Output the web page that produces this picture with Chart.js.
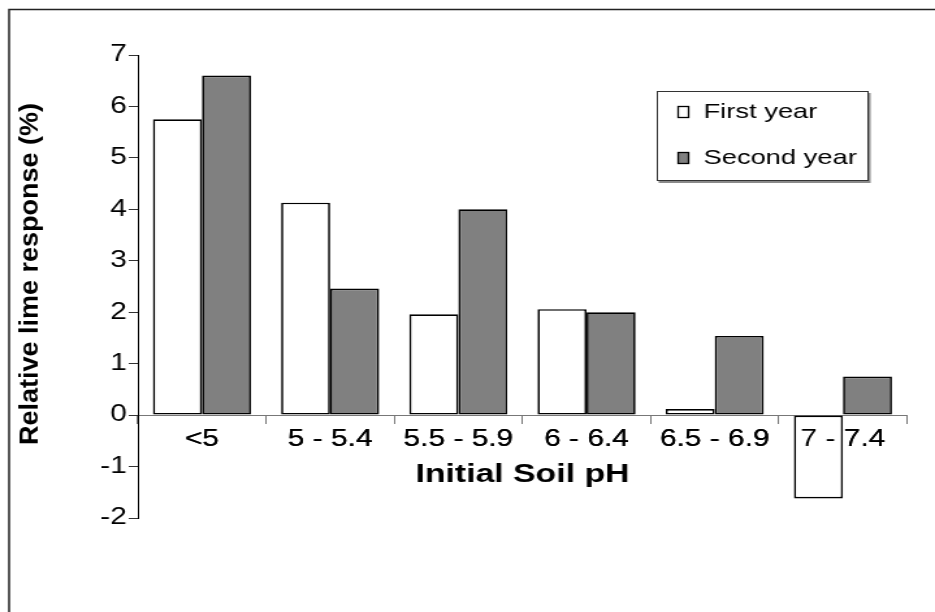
<!DOCTYPE html>
<html>
<head>
<meta charset="utf-8">
<script src="https://cdn.jsdelivr.net/npm/chart.js@4/dist/chart.umd.min.js"></script>
<style>
  html, body { margin: 0; padding: 0; background: #fff; overflow: hidden; }
  #wrap { position: relative; width: 719px; height: 612px; transform: scaleX(1.3004); transform-origin: 0 0; }
  #c { display: block; }
</style>
</head>
<body>
<div id="wrap"><canvas id="c" width="719" height="612"></canvas></div>
<script>
const categories = ['<5', '5 - 5.4', '5.5 - 5.9', '6 - 6.4', '6.5 - 6.9', '7 - 7.4'];
const firstYear = [5.75, 4.13, 1.96, 2.06, 0.12, -1.62];
const secondYear = [6.6, 2.46, 4.0, 2.0, 1.54, 0.75];
const seriesNames = ['First year', 'Second year'];
const xTitle = 'Initial Soil pH';
const yTitle = 'Relative lime response (%)';

const FONT = '"Liberation Sans", Arial, sans-serif';
const SX = 1.3004;

const frame = {
  id: 'frame',
  afterDraw(chart) {
    const ctx = chart.ctx;
    ctx.save();
    ctx.strokeStyle = '#222';
    ctx.lineWidth = 1.5;
    ctx.beginPath();
    ctx.moveTo(7, chart.height + 5);
    ctx.lineTo(7, 9.5);
    ctx.lineTo(chart.width + 5, 9.5);
    ctx.stroke();
    ctx.restore();
  }
};

// category labels drawn over the bars, y title drawn without horizontal stretch
const overlay = {
  id: 'overlay',
  afterDatasetsDraw(chart) {
    chart.scales.x.drawLabels(chart.chartArea);
  },
  afterDraw(chart) {
    const ctx = chart.ctx;
    ctx.save();
    ctx.translate(30 / SX, 274);
    ctx.scale(1 / SX, 1);
    ctx.rotate(-Math.PI / 2);
    ctx.font = 'bold 27px ' + FONT;
    ctx.fillStyle = '#000';
    ctx.textAlign = 'center';
    ctx.textBaseline = 'middle';
    ctx.fillText(chart.options.scales.y.title.text, 0, 0);
    ctx.restore();
  }
};

const boxLegend = {
  id: 'boxLegend',
  afterDraw(chart) {
    const ctx = chart.ctx;
    const x = 505, y = 91, w = 163, h = 90;
    ctx.save();
    ctx.fillStyle = '#8a8a8a';
    ctx.fillRect(x + 1.5, y + 2, w, h);
    ctx.fillStyle = '#fff';
    ctx.fillRect(x, y, w, h);
    ctx.strokeStyle = '#333';
    ctx.lineWidth = 1;
    ctx.strokeRect(x + 0.5, y + 0.5, w - 1, h - 1);
    ctx.font = '21px ' + FONT;
    ctx.textBaseline = 'middle';
    chart.data.datasets.forEach((ds, i) => {
      const cy = 112 + i * 46;
      ctx.fillStyle = ds.backgroundColor;
      ctx.fillRect(521.5, cy - 5.5, 8, 11);
      ctx.strokeStyle = '#000';
      ctx.lineWidth = 1.3;
      ctx.strokeRect(521.5, cy - 5.5, 8, 11);
      ctx.fillStyle = '#000';
      ctx.fillText(ds.label, 541, cy);
    });
    ctx.restore();
  }
};

new Chart(document.getElementById('c'), {
  type: 'bar',
  data: {
    labels: categories,
    datasets: [
      { label: seriesNames[0], data: firstYear, backgroundColor: '#ffffff', borderColor: '#000', borderWidth: 1.7, borderSkipped: false },
      { label: seriesNames[1], data: secondYear, backgroundColor: '#808080', borderColor: '#000', borderWidth: 1.7, borderSkipped: false }
    ]
  },
  options: {
    responsive: false,
    animation: false,
    devicePixelRatio: 1,
    categoryPercentage: 0.765,
    barPercentage: 1,
    layout: { padding: { left: 8, right: 21.5, top: 55, bottom: 94 } },
    plugins: { legend: { display: false }, tooltip: { enabled: false }, title: { display: false } },
    scales: {
      x: {
        position: { y: 0 },
        offset: true,
        grid: { offset: true, drawOnChartArea: false, drawTicks: true, tickLength: 8, color: '#777', lineWidth: 1 },
        border: { display: true, color: '#777', width: 1 },
        ticks: { color: '#000', font: { family: FONT, size: 23 }, padding: 3, maxRotation: 0, autoSkip: false },
        title: { display: true, text: xTitle, color: '#000', font: { family: FONT, size: 26, weight: 'bold' }, padding: { top: 3, bottom: 0 } }
      },
      y: {
        min: -2, max: 7,
        afterFit(s) { s.width = 98; },
        grid: { drawOnChartArea: false, drawTicks: true, tickLength: 7, color: '#333', lineWidth: 1 },
        border: { display: true, color: '#000', width: 1 },
        ticks: { stepSize: 1, color: '#000', font: { family: FONT, size: 23 }, padding: 1.5 },
        title: { display: false, text: yTitle }
      }
    }
  },
  plugins: [frame, overlay, boxLegend]
});
</script>
</body>
</html>
